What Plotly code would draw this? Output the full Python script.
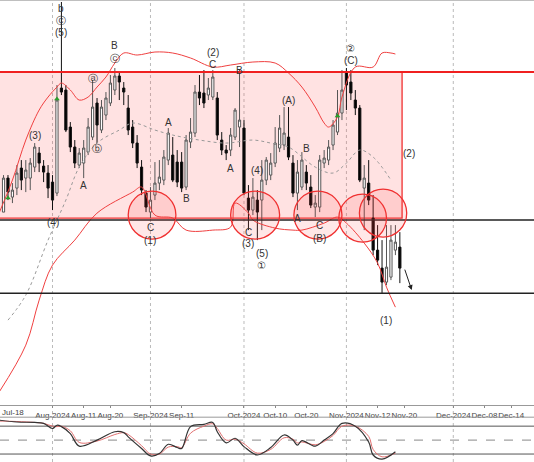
import pandas as pd
import plotly.graph_objects as go

# daily candles (price units)
dates = ["2024-07-17", "2024-07-18", "2024-07-19", "2024-07-22", "2024-07-23", "2024-07-24", "2024-07-25",
         "2024-07-26", "2024-07-29", "2024-07-30", "2024-07-31", "2024-08-01", "2024-08-02", "2024-08-05",
         "2024-08-06", "2024-08-07", "2024-08-08", "2024-08-09", "2024-08-12", "2024-08-13", "2024-08-14",
         "2024-08-15", "2024-08-16", "2024-08-19", "2024-08-20", "2024-08-21", "2024-08-22", "2024-08-23",
         "2024-08-26", "2024-08-27", "2024-08-28", "2024-08-29", "2024-08-30", "2024-09-02", "2024-09-03",
         "2024-09-04", "2024-09-05", "2024-09-06", "2024-09-09", "2024-09-10", "2024-09-11", "2024-09-12",
         "2024-09-13", "2024-09-16", "2024-09-17", "2024-09-18", "2024-09-19", "2024-09-20", "2024-09-23",
         "2024-09-24", "2024-09-25", "2024-09-26", "2024-09-27", "2024-09-30", "2024-10-01", "2024-10-02",
         "2024-10-03", "2024-10-04", "2024-10-07", "2024-10-08", "2024-10-09", "2024-10-10", "2024-10-11",
         "2024-10-14", "2024-10-15", "2024-10-16", "2024-10-17", "2024-10-18", "2024-10-21", "2024-10-22",
         "2024-10-23", "2024-10-24", "2024-10-25", "2024-10-28", "2024-10-29", "2024-10-30", "2024-10-31",
         "2024-11-01", "2024-11-04", "2024-11-05", "2024-11-06", "2024-11-07", "2024-11-08", "2024-11-11",
         "2024-11-12", "2024-11-13", "2024-11-14", "2024-11-15", "2024-11-18", "2024-11-19"]
opens = [198, 232, 213, 222, 242, 232, 232, 243, 257, 244, 237, 228, 217, 322, 320, 283, 263, 245, 247, 258,
         273, 307, 280, 295, 307, 320, 334, 322, 302, 283, 267, 243, 217, 198, 215, 227, 230, 250, 255, 248,
         248, 223, 268, 277, 318, 317, 315, 313, 312, 270, 260, 260, 273, 283, 282, 212, 200, 210, 210, 230,
         235, 247, 262, 265, 273, 247, 217, 223, 238, 223, 203, 203, 247, 250, 265, 278, 297, 338, 328, 310,
         302, 222, 227, 192, 160, 142, 128, 133, 160, 163]
highs = [235, 235, 227, 245, 250, 250, 252, 267, 263, 250, 245, 235, 325, 408, 325, 288, 270, 262, 270, 292,
         330, 312, 310, 318, 335, 342, 338, 328, 315, 290, 275, 250, 220, 223, 248, 250, 260, 282, 273, 260,
         258, 275, 292, 325, 335, 340, 332, 340, 318, 278, 265, 282, 302, 340, 290, 225, 232, 220, 250, 253,
         257, 283, 295, 303, 303, 255, 250, 258, 245, 235, 215, 255, 260, 270, 290, 320, 340, 342, 340, 320,
         305, 245, 250, 215, 185, 170, 185, 185, 185, 178]
lows = [198, 210, 207, 215, 220, 218, 220, 238, 238, 228, 212, 200, 214, 315, 278, 258, 242, 242, 232, 255,
        270, 267, 277, 290, 304, 315, 310, 305, 275, 262, 242, 215, 198, 192, 210, 220, 225, 245, 228, 223,
        218, 220, 262, 273, 305, 302, 310, 310, 270, 255, 250, 254, 270, 263, 215, 180, 195, 170, 180, 225,
        230, 243, 258, 260, 250, 213, 200, 220, 220, 202, 193, 198, 242, 245, 260, 275, 290, 300, 310, 295,
        228, 180, 205, 155, 145, 117, 125, 130, 155, 127]
closes = [232, 218, 220, 237, 230, 240, 247, 263, 247, 238, 222, 210, 310, 318, 280, 263, 247, 257, 262, 283,
          303, 285, 303, 312, 327, 334, 328, 318, 280, 267, 247, 220, 203, 210, 227, 233, 253, 277, 230, 228,
          222, 270, 278, 318, 312, 307, 322, 333, 275, 260, 257, 275, 300, 290, 217, 200, 213, 198, 230, 250,
          247, 267, 282, 277, 253, 217, 238, 250, 227, 205, 207, 250, 252, 263, 285, 297, 320, 325, 317, 302,
          230, 232, 210, 160, 150, 128, 143, 170, 168, 142]

# Bollinger bands
bb_up_dates = ["2024-07-16", "2024-07-19", "2024-07-24", "2024-07-29", "2024-07-31", "2024-08-02", "2024-08-05",
               "2024-08-07", "2024-08-09", "2024-08-13", "2024-08-15", "2024-08-19", "2024-08-21", "2024-08-23",
               "2024-08-28", "2024-09-03", "2024-09-09", "2024-09-13", "2024-09-20", "2024-09-26", "2024-10-03",
               "2024-10-10", "2024-10-15", "2024-10-18", "2024-10-23", "2024-10-25", "2024-10-28", "2024-10-30",
               "2024-10-31", "2024-11-05", "2024-11-11", "2024-11-13", "2024-11-15", "2024-11-18"]
bb_up = [197, 230, 270, 300, 313, 323, 327, 320, 310, 313, 323, 333, 347, 357, 355, 358, 357, 352, 343, 345,
         348, 347, 337, 323, 303, 287, 283, 293, 313, 343, 343, 357, 357, 356]
bb_lo_dates = ["2024-07-16", "2024-07-24", "2024-07-29", "2024-08-01", "2024-08-08", "2024-08-15", "2024-08-27",
               "2024-08-29", "2024-09-03", "2024-09-09", "2024-09-12", "2024-09-20", "2024-09-26", "2024-09-27",
               "2024-10-02", "2024-10-03", "2024-10-10", "2024-10-16", "2024-10-18", "2024-10-25", "2024-10-30",
               "2024-11-01", "2024-11-07", "2024-11-12", "2024-11-14", "2024-11-18"]
bb_lo = [18, 65, 110, 145, 170, 197, 218, 223, 195, 192, 180, 180, 183, 207, 197, 190, 182, 180, 180, 187,
         193, 187, 167, 147, 123, 103]
bb_mid_dates = ["2024-07-18", "2024-07-24", "2024-07-31", "2024-08-06", "2024-08-09", "2024-08-15", "2024-08-22",
                "2024-08-27", "2024-09-03", "2024-09-09", "2024-09-17", "2024-09-25", "2024-10-03", "2024-10-09",
                "2024-10-15", "2024-10-23", "2024-10-29", "2024-11-01", "2024-11-06", "2024-11-11", "2024-11-15"]
bb_mid = [90, 115, 170, 210, 243, 267, 280, 287, 280, 275, 270, 267, 270, 267, 263, 243, 237, 247, 260, 253, 230]

# stochastic oscillator
osc_dates = ["2024-07-16", "2024-07-22", "2024-07-26", "2024-07-30", "2024-08-01", "2024-08-02", "2024-08-05",
             "2024-08-07", "2024-08-09", "2024-08-15", "2024-08-21", "2024-08-23", "2024-08-26", "2024-08-29",
             "2024-09-02", "2024-09-04", "2024-09-06", "2024-09-10", "2024-09-11", "2024-09-13", "2024-09-18",
             "2024-09-20", "2024-09-23", "2024-09-25", "2024-09-27", "2024-10-01", "2024-10-04", "2024-10-09",
             "2024-10-14", "2024-10-16", "2024-10-17", "2024-10-18", "2024-10-23", "2024-10-25", "2024-10-29",
             "2024-10-31", "2024-11-05", "2024-11-08", "2024-11-11", "2024-11-13", "2024-11-18"]
osc_k = [93, 89, 88, 86, 75, 82, 79, 64, 37, 50, 68, 66, 57, 32, 16, 21, 41, 34, 32, 79, 84, 88, 68, 44, 54,
         36, 18, 34, 61, 50, 39, 49, 37, 50, 64, 86, 80, 46, 18, 9, 25]
osc_d = [91, 90, 88, 86, 80, 79, 80, 70, 45, 48, 62, 66, 62, 38, 20, 20, 35, 36, 34, 65, 80, 85, 75, 50, 52,
         42, 22, 30, 55, 52, 44, 46, 40, 47, 60, 80, 80, 58, 30, 14, 22]

tick_dates = ["2024-08-01", "2024-08-12", "2024-08-20", "2024-09-02", "2024-09-11", "2024-10-01",
              "2024-10-10", "2024-10-21", "2024-11-01", "2024-11-12", "2024-11-20", "2024-12-01", "2024-12-08",
              "2024-12-14"]
tick_text = ["Aug-2024", "Aug-11", "Aug-20", "Sep-2024", "Sep-11", "Oct-2024", "Oct-10", "Oct-20",
             "Nov-2024", "Nov-12", "Nov-20", "Dec-2024", "Dec-08", "Dec-14"]

# wave labels: date, price, text
lbl_dates = ["2024-08-05", "2024-08-05", "2024-08-05", "2024-07-26", "2024-08-01", "2024-08-12", "2024-08-14",
             "2024-08-15", "2024-08-21", "2024-08-21", "2024-09-02", "2024-09-02", "2024-09-06", "2024-09-12",
             "2024-09-20", "2024-09-20", "2024-09-26", "2024-09-30", "2024-10-02", "2024-10-04", "2024-10-02",
             "2024-10-07", "2024-10-07", "2024-10-15", "2024-10-21", "2024-10-17", "2024-10-24", "2024-10-24",
             "2024-11-04", "2024-11-04", "2024-11-21", "2024-11-14"]
lbl_prices = [402, 390, 378, 275, 188, 225, 332, 262, 365, 352, 183, 170, 288, 212, 358, 346, 242, 340, 178,
              240, 167, 157, 145, 310, 262, 192, 185, 172, 362, 350, 257, 90]
lbl_text = ["b", "Ⓒ", "(5)", "(3)", "(4)", "A", "ⓐ", "ⓑ", "B", "ⓒ", "C", "(1)", "A", "B", "(2)", "C", "A",
            "B", "C", "(4)", "(3)", "(5)", "①", "(A)", "B", "A", "C", "(B)", "②", "(C)", "(2)", "(1)"]

weekends = [d.strftime("%Y-%m-%d") for d in pd.date_range("2024-07-13", "2024-11-17") if d.dayofweek >= 5]

fig = go.Figure()
fig.add_trace(go.Candlestick(
    x=dates, open=opens, high=highs, low=lows, close=closes,
    increasing=dict(fillcolor="white", line=dict(color="#555", width=1)),
    decreasing=dict(fillcolor="black", line=dict(color="#111", width=1)),
    whiskerwidth=0, showlegend=False, hoverinfo="skip"))
fig.add_trace(go.Scatter(x=bb_up_dates, y=bb_up, mode="lines", line=dict(color="#f04040", width=1),
                         line_shape="spline", showlegend=False))
fig.add_trace(go.Scatter(x=bb_lo_dates, y=bb_lo, mode="lines", line=dict(color="#f04040", width=1),
                         line_shape="spline", showlegend=False))
fig.add_trace(go.Scatter(x=bb_mid_dates, y=bb_mid, mode="lines", line=dict(color="#999", width=1, dash="dot"),
                         line_shape="spline", showlegend=False))
fig.add_trace(go.Scatter(x=["2024-07-18", "2024-08-02", "2024-10-30"], y=[212, 311, 294], mode="markers",
                         marker=dict(symbol="triangle-up", size=5, color="#2a9d2a"), showlegend=False))
fig.add_trace(go.Scatter(x=osc_dates, y=osc_d, mode="lines", line=dict(color="#e07070", width=1),
                         line_shape="spline", xaxis="x2", yaxis="y2", showlegend=False))
fig.add_trace(go.Scatter(x=osc_dates, y=osc_k, mode="lines", line=dict(color="#333", width=1.2),
                         line_shape="spline", xaxis="x2", yaxis="y2", showlegend=False))

shapes = [
    dict(type="rect", xref="x", x0="2024-07-15", x1="2024-11-19 12:00", yref="y", y0=192, y1=338,
         fillcolor="rgba(255,60,60,0.15)", line=dict(color="#f03030", width=1.3), layer="below"),
    dict(type="line", xref="paper", x0=0, x1=1, yref="y", y0=338, y1=338, line=dict(color="#f02020", width=2)),
    dict(type="line", xref="paper", x0=0, x1=1, yref="y", y0=190, y1=190, line=dict(color="#222", width=1.5)),
    dict(type="line", xref="paper", x0=0, x1=1, yref="y", y0=117, y1=117, line=dict(color="#222", width=1.5)),
    dict(type="line", xref="paper", x0=0, x1=1, yref="paper", y0=1, y1=1, line=dict(color="#aaa", width=1.5)),
]
for d in ["2024-08-01", "2024-09-02", "2024-10-01", "2024-11-01", "2024-12-01"]:
    shapes.append(dict(type="line", xref="x", x0=d, x1=d, yref="paper", y0=0, y1=1,
                       line=dict(color="#bbb", width=1, dash="dot"), layer="below"))
circles = [("2024-08-26", "2024-09-09 17:00", 171, 219), ("2024-09-26", "2024-10-11", 171, 219),
           ("2024-10-16 05:00", "2024-10-31", 171, 219), ("2024-10-30 07:00", "2024-11-14", 168, 216),
           ("2024-11-05 22:00", "2024-11-20 13:00", 173, 221)]
for x0, x1, y0, y1 in circles:
    shapes.append(dict(type="circle", xref="x", x0=x0, x1=x1, yref="y", y0=y0, y1=y1,
                       fillcolor="rgba(255,60,60,0.12)", line=dict(color="#f03030", width=1.3)))
for v, dsh, col in [(80, "solid", "#555"), (50, "dash", "#888"), (20, "solid", "#555")]:
    shapes.append(dict(type="line", xref="paper", x0=0, x1=1, yref="y2", y0=v, y1=v,
                       line=dict(color=col, width=1, dash=dsh), layer="below"))
shapes.append(dict(type="line", xref="paper", x0=0, x1=1, yref="paper", y0=0.097, y1=0.097,
                   line=dict(color="#999", width=1)))

annotations = [dict(x=d, y=p, text=t, showarrow=False, font=dict(size=10, color="#333"), xref="x", yref="y")
               for d, p, t in zip(lbl_dates, lbl_prices, lbl_text)]
annotations.append(dict(x="2024-11-21 16:00", y=120, ax="2024-11-20", ay=142, axref="x", ayref="y",
                        xref="x", yref="y", text="", showarrow=True, arrowhead=2, arrowsize=1,
                        arrowwidth=1, arrowcolor="#222"))
# first tick label sits at the left edge
annotations.append(dict(x=0, y=0.123, xref="paper", yref="paper", xanchor="left", yanchor="top", yshift=-1,
                        text="Jul-18", showarrow=False, font=dict(size=8, color="#444")))

fig.update_layout(
    width=534, height=462, margin=dict(l=0, r=0, t=0, b=0, autoexpand=False),
    paper_bgcolor="white", plot_bgcolor="white",
    font=dict(family="Arial", color="#333"),
    shapes=shapes, annotations=annotations,
    xaxis=dict(type="date", range=["2024-07-16 05:00", "2024-12-19 03:00"],
               rangebreaks=[dict(values=weekends)], rangeslider=dict(visible=False),
               tickvals=tick_dates, ticktext=tick_text, tickfont=dict(size=8, color="#444"),
               tickangle=0, automargin=False,
               ticks="outside", ticklen=2, tickcolor="#888", showgrid=False,
               showline=True, linecolor="#999", anchor="y"),
    yaxis=dict(domain=[0.123, 1], range=[5, 410], showticklabels=False, showgrid=False, zeroline=False,
               automargin=False),
    xaxis2=dict(type="date", matches="x", anchor="y2", showticklabels=False, showgrid=False,
                rangebreaks=[dict(values=weekends)], automargin=False),
    yaxis2=dict(domain=[0, 0.097], range=[2.9, 99.3], showticklabels=False, showgrid=False, zeroline=False,
                automargin=False),
)

fig.write_html("out.html", config={"displayModeBar": False},
               post_script="document.body.style.margin='0';")
